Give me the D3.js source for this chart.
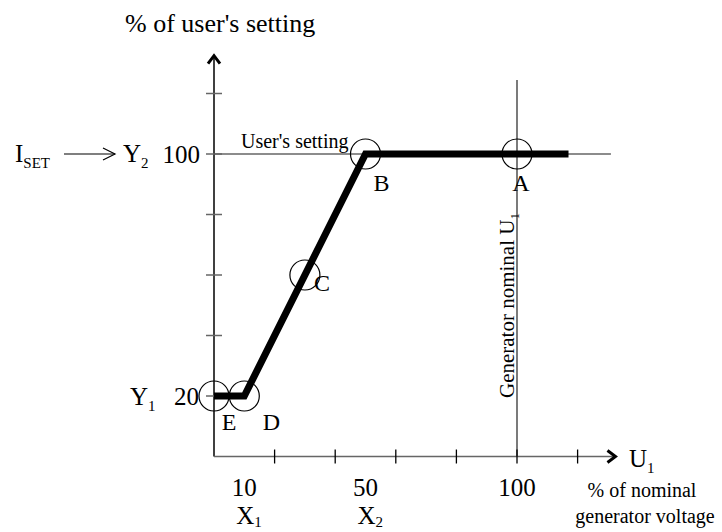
<!DOCTYPE html>
<html>
<head>
<meta charset="utf-8">
<script src="https://cdn.jsdelivr.net/npm/d3@7"></script>
<style>
  body { margin: 0; background: #fff; }
  text { font-family: "Liberation Serif", "Times New Roman", serif; fill: #000; }
</style>
</head>
<body>
<div id="chart"></div>
<script>
// data (both axes in %)
const curveX = [0, 10, 50, 117];
const curveY = [20, 20, 100, 100];
const pointNames = ["E", "D", "C", "B", "A"];
const pointX = [0, 10, 30, 50, 100];
const pointY = [20, 20, 60, 100, 100];
const xTicks = [20, 40, 60, 80, 100, 120];
const yTicks = [20, 40, 60, 80, 100, 120];
const xLabels = [10, 50, 100];
const xSubLabels = ["X", "X"];
const settingLevel = 100;
const nominalVoltage = 100;

const W = 722, H = 532;
const svg = d3.select("#chart").append("svg")
    .attr("width", W)
    .attr("height", H);

// same scale on both axes
const x = d3.scaleLinear().domain([0, 100]).range([214, 517]);
const y = d3.scaleLinear().domain([0, 100]).range([456.5, 154]);

const font = 25;

// reference lines
svg.append("line")
    .attr("x1", x(0)).attr("x2", x(131))
    .attr("y1", y(settingLevel)).attr("y2", y(settingLevel))
    .attr("stroke", "#666").attr("stroke-width", 1.5);

svg.append("line")
    .attr("x1", x(nominalVoltage)).attr("x2", x(nominalVoltage))
    .attr("y1", y(124.5)).attr("y2", y(0))
    .attr("stroke", "#333").attr("stroke-width", 1.3);

// y axis
svg.append("line")
    .attr("x1", x(0)).attr("x2", x(0))
    .attr("y1", y(0)).attr("y2", y(132.5))
    .attr("stroke", "#000").attr("stroke-width", 1.5);
svg.append("path")
    .attr("d", `M${x(0) - 6},${y(132.5) + 8} L${x(0)},${y(132.5)} L${x(0) + 6},${y(132.5) + 8}`)
    .attr("fill", "none").attr("stroke", "#000").attr("stroke-width", 3);
svg.selectAll(".ytick").data(yTicks).enter().append("line")
    .attr("class", "ytick")
    .attr("x1", x(0) - 8).attr("x2", x(0) + 8)
    .attr("y1", d => y(d)).attr("y2", d => y(d))
    .attr("stroke", "#666").attr("stroke-width", 1.5);

// x axis
svg.append("line")
    .attr("x1", x(0)).attr("x2", x(132.5))
    .attr("y1", y(0)).attr("y2", y(0))
    .attr("stroke", "#666").attr("stroke-width", 1.5);
svg.append("path")
    .attr("d", `M${x(132.5) - 8},${y(0) - 6} L${x(132.5)},${y(0)} L${x(132.5) - 8},${y(0) + 6}`)
    .attr("fill", "none").attr("stroke", "#000").attr("stroke-width", 3);
svg.selectAll(".xtick").data(xTicks).enter().append("line")
    .attr("class", "xtick")
    .attr("x1", d => x(d)).attr("x2", d => x(d))
    .attr("y1", y(0) - 7).attr("y2", y(0) + 7)
    .attr("stroke", "#000").attr("stroke-width", 1.3);

// characteristic curve
const line = d3.line().x(d => x(d[0])).y(d => y(d[1]));
svg.append("path")
    .datum(d3.zip(curveX, curveY))
    .attr("d", line)
    .attr("fill", "none")
    .attr("stroke", "#000")
    .attr("stroke-width", 7)
    .attr("stroke-linejoin", "miter");

// point circles + letters
const labelOffset = { E: [15, 34], D: [27, 34], C: [17, 16], B: [16, 37], A: [4, 37] };
pointNames.forEach((n, i) => {
    svg.append("circle")
        .attr("cx", x(pointX[i])).attr("cy", y(pointY[i]))
        .attr("r", 15)
        .attr("fill", "none").attr("stroke", "#000").attr("stroke-width", 1.2);
    svg.append("text")
        .attr("x", x(pointX[i]) + labelOffset[n][0])
        .attr("y", y(pointY[i]) + labelOffset[n][1])
        .attr("text-anchor", "middle")
        .style("font-size", "24px")
        .text(n);
});

// titles
svg.append("text")
    .attr("x", 125).attr("y", 32)
    .style("font-size", "26px")
    .text("% of user's setting");

svg.append("text")
    .attr("x", 241).attr("y", y(settingLevel) - 6)
    .style("font-size", "20px")
    .text("User's setting");

// I_SET --> Y2 100
const iset = svg.append("text")
    .attr("x", 15).attr("y", y(settingLevel) + 8)
    .style("font-size", font + "px");
iset.append("tspan").text("I");
iset.append("tspan").attr("dy", 6).style("font-size", "15px").text("SET");

svg.append("line")
    .attr("x1", 64).attr("x2", 115)
    .attr("y1", y(settingLevel)).attr("y2", y(settingLevel))
    .attr("stroke", "#000").attr("stroke-width", 1.2);
svg.append("path")
    .attr("d", `M103,${y(settingLevel) - 6} L115,${y(settingLevel)} L103,${y(settingLevel) + 6}`)
    .attr("fill", "none").attr("stroke", "#000").attr("stroke-width", 1.2);

const y2 = svg.append("text")
    .attr("x", 123).attr("y", y(settingLevel) + 8)
    .style("font-size", font + "px");
y2.append("tspan").text("Y");
y2.append("tspan").attr("dy", 6).style("font-size", "15px").text("2");

svg.append("text")
    .attr("x", x(0) - 14).attr("y", y(settingLevel) + 9)
    .attr("text-anchor", "end")
    .style("font-size", font + "px")
    .text(settingLevel);

const y1 = svg.append("text")
    .attr("x", 130).attr("y", y(curveY[0]) + 9)
    .style("font-size", font + "px");
y1.append("tspan").text("Y");
y1.append("tspan").attr("dy", 6).style("font-size", "15px").text("1");

svg.append("text")
    .attr("x", x(0) - 15).attr("y", y(curveY[0]) + 9)
    .attr("text-anchor", "end")
    .style("font-size", font + "px")
    .text(curveY[0]);

// x labels
svg.selectAll(".xlab").data(xLabels).enter().append("text")
    .attr("class", "xlab")
    .attr("x", d => x(d))
    .attr("y", 496)
    .attr("text-anchor", "middle")
    .style("font-size", font + "px")
    .text(d => d);

xSubLabels.forEach((s, i) => {
    const t = svg.append("text")
        .attr("x", x(xLabels[i]) - 8).attr("y", 524)
        .style("font-size", font + "px");
    t.append("tspan").text(s);
    t.append("tspan").attr("dy", 3).style("font-size", "15px").text(i + 1);
});

// U1 at axis end
const u1 = svg.append("text")
    .attr("x", 629).attr("y", y(0) + 10)
    .style("font-size", font + "px");
u1.append("tspan").text("U");
u1.append("tspan").attr("dy", 6).style("font-size", "15px").text("1");

svg.append("text")
    .attr("x", 642).attr("y", 497)
    .attr("text-anchor", "middle")
    .style("font-size", "20px")
    .text("% of nominal");
svg.append("text")
    .attr("x", 645).attr("y", 523)
    .attr("text-anchor", "middle")
    .style("font-size", "20px")
    .text("generator voltage");

// rotated label along the nominal voltage line
const gen = svg.append("text")
    .attr("transform", `translate(${x(nominalVoltage) - 3}, 398) rotate(-90)`)
    .style("font-size", "21px");
gen.append("tspan").text("Generator nominal U");
gen.append("tspan").attr("dy", 5).style("font-size", "13px").text("1");
</script>
</body>
</html>
